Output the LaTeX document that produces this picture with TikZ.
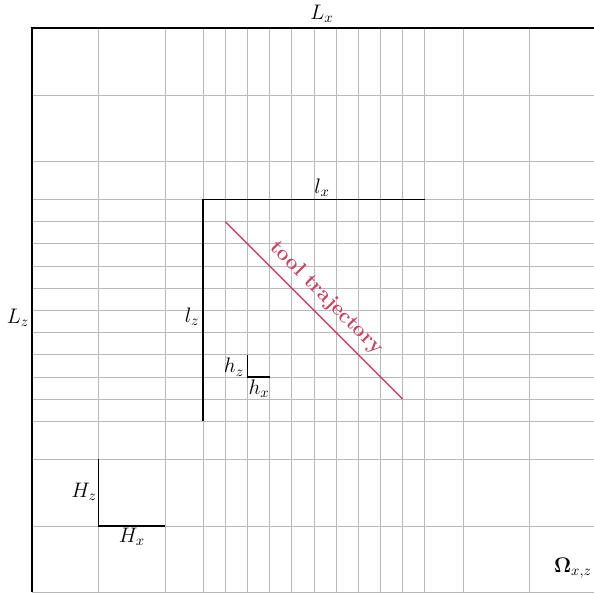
\documentclass[tikz,border=0pt]{standalone}
\usepackage{amsmath,amssymb}
\usepackage{tikz}
\usetikzlibrary{positioning,calc}
\definecolor{trajred}{RGB}{196,72,100}

\begin{document}
\begin{tikzpicture}[x=0.534cm, y=0.534cm, every node/.style={font=\Large}]
\tikzstyle{mesh}=[draw=gray!55, line width=0.5pt]
\tikzstyle{dim}=[draw=black, line width=1.3pt]
\tikzstyle{lbl}=[inner sep=0pt]
\useasboundingbox (-1.443,-0.03) rectangle (25.35,26.72);
% mesh: coarse cells outside, fine cells in the refined zone
\begin{scope}
\clip (-1.443,-0.03) rectangle (25.35,26.72);
\foreach \p in {3,6,19.44,22.44,25.44} {
  \draw[mesh] (\p,0) -- (\p,25.44);
  \draw[mesh] (0,\p) -- (25.44,\p);
}
\draw[mesh] (0,0) -- (25.44,0);
\foreach \i in {0,...,10} {
  \draw[mesh] (7.72+\i,0) -- (7.72+\i,25.44);
  \draw[mesh] (0,7.72+\i) -- (25.44,7.72+\i);
}
% domain
\coordinate (Dbl) at (0,0);
\coordinate (Dtl) at (0,25.44);
\coordinate (Dtr) at (25.44,25.44);
\draw[dim] (Dbl) -- (Dtl) -- (Dtr);
\end{scope}
\node[lbl] (Lx) at (13.08,26.08) {$L_x$};
\node[lbl] (Lz) at (-0.63,12.37) {$L_z$};
% refined zone
\coordinate (ftl) at (7.72,17.72);
\coordinate (fbl) at (7.72,7.72);
\coordinate (ftr) at (17.72,17.72);
\draw[dim] (fbl) -- (ftl) -- (ftr);
\node[lbl] (lx) at (13.08,18.24) {$l_x$};
\node[lbl] (lz) at (7.22,12.42) {$l_z$};
% fine cell
\coordinate (ht) at (9.72,10.72);
\coordinate (hc) at (9.72,9.72);
\coordinate (hr) at (10.72,9.72);
\draw[dim] (ht) -- (hc) -- (hr);
\node[lbl] (hz) at (9.11,10.16) {$h_z$};
\node[lbl] (hx) at (10.24,9.17) {$h_x$};
% coarse cell
\coordinate (Ht) at (3,6);
\coordinate (Hc) at (3,3);
\coordinate (Hr) at (6,3);
\draw[dim] (Ht) -- (Hc) -- (Hr);
\node[lbl] (Hz) at (2.35,4.53) {$H_z$};
\node[lbl] (Hx) at (4.51,2.50) {$H_x$};
% tool path
\coordinate (tstart) at (8.72,16.72);
\coordinate (tend) at (16.72,8.72);
\draw[trajred, line width=1pt] (tstart) -- node[sloped, anchor=south, pos=0.5, inner sep=5pt, font=\Large\bfseries] (tlab) {tool trajectory} (tend);
\node (om) at (24.4,1.1) {$\boldsymbol{\Omega}_{x,z}$};
\end{tikzpicture}
\end{document}
